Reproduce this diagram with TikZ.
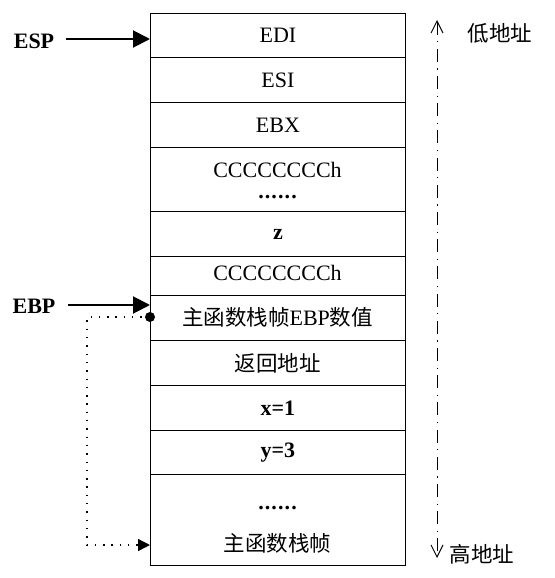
\documentclass[tikz,border=0pt]{standalone}
\usepackage{fontspec}
\setmainfont{Liberation Serif}
\newfontfamily\cjk{Noto Sans CJK SC}
\usetikzlibrary{arrows.meta}
\begin{document}
\begin{tikzpicture}[x=1pt,y=-1pt,
  font=\fontsize{22}{26}\selectfont,
  cell/.style={draw, line width=0.9pt, minimum width=255pt, inner sep=0pt, anchor=north west},
  txt/.style={inner sep=0pt},
  lbl/.style={inner sep=0pt, font=\fontsize{22}{26}\selectfont\bfseries},
  bigarrow/.style={line width=2pt, -{Triangle[length=17pt,width=17pt]}},
  dotline/.style={line width=1.4pt, dash pattern=on 1.4pt off 6.9pt, -{Triangle[length=12pt,width=12pt]}},
  dashdotline/.style={line width=1pt, dash pattern=on 13pt off 6.5pt on 1.2pt off 6.5pt,
     {Straight Barb[length=12pt,width=12pt,line width=1pt]}-{Straight Barb[length=12pt,width=12pt,line width=1pt]}},
  cjkt/.style={inner sep=0pt, font=\fontsize{21.5}{26}\selectfont\cjk}
]
\useasboundingbox (0,0) rectangle (554,578);
% stack cells
\node[cell, minimum height=44pt] (r1) at (150,13) {EDI};
\node[cell, minimum height=45pt] (r2) at (150,57) {ESI};
\node[cell, minimum height=45pt] (r3) at (150,102) {EBX};
\node[cell, minimum height=64pt] (r4) at (150,147) {};
\node[cell, minimum height=45pt] (r5) at (150,211) {\textbf{z}};
\node[cell, minimum height=39pt] (r6) at (150,256) {};
\node[cell, minimum height=45pt] (r7) at (150,295) {};
\node[cell, minimum height=45pt] (r8) at (150,340) {{\fontsize{21.5}{26}\cjk 返回地址}};
\node[cell, minimum height=45pt] (r9) at (150,385) {\textbf{x=1}};
\node[cell, minimum height=44pt] (r10) at (150,430) {\textbf{y=3}};
\node[cell, minimum height=91pt] (r11) at (150,474) {};
% texts inside multi-line cells
\node[txt] (t4a) at (277.5,170) {CCCCCCCCh};
\node[txt] (t4b) at (277.5,197) {\textbf{.\kern0.05em.\kern0.05em.\kern0.05em.\kern0.05em.\kern0.05em.}};
\node[txt] (t6) at (277.5,273) {CCCCCCCCh};
\node[txt] (t7) at (277.5,317) {{\fontsize{21.5}{26}\cjk 主函数栈帧}EBP{\fontsize{21.5}{26}\cjk 数值}};
\node[txt] (t11a) at (277.5,508) {\textbf{.\kern0.05em.\kern0.05em.\kern0.05em.\kern0.05em.\kern0.05em.}};
\node[cjkt] (t11b) at (277.5,543) {主函数栈帧};
% pointer labels
\node[lbl] (esp) at (34,41.5) {ESP};
\node[lbl] (ebp) at (34,306) {EBP};
\coordinate (espT) at (150,39);
\coordinate (ebpT) at (150,305);
\draw[bigarrow, shorten <=12pt] (esp.east |- espT) -- (espT);
\draw[bigarrow, shorten <=12pt] (ebp.east |- ebpT) -- (ebpT);
% saved EBP link
\coordinate (dot) at (150,317);
\coordinate (c1) at (87,317);
\coordinate (c2) at (87,545);
\coordinate (mainT) at (150,545);
\fill (dot) circle (5pt);
\draw[dotline] (dot) -- (c1) -- (c2) -- (mainT);
% address direction
\coordinate (lowT) at (437,20);
\coordinate (highT) at (437,558);
\draw[dashdotline] (lowT) -- (highT);
\node[cjkt] (low) at (500,33) {低地址};
\node[cjkt] (high) at (482,554) {高地址};
\end{tikzpicture}
\end{document}
